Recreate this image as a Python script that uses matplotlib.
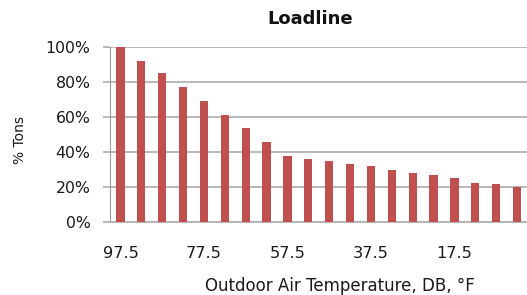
import matplotlib
matplotlib.use('Agg')
import matplotlib.pyplot as plt
from matplotlib.ticker import PercentFormatter

# data
temps = [97.5, 92.5, 87.5, 82.5, 77.5, 72.5, 67.5, 62.5, 57.5, 52.5,
         47.5, 42.5, 37.5, 32.5, 27.5, 22.5, 17.5, 12.5, 7.5, 2.5]
tons = [100, 92, 85, 77, 69, 61, 54, 46, 38, 36,
        35, 33, 32, 30, 28, 27, 25, 22.5, 22, 20]

plt.rcParams['font.family'] = ['DejaVu Sans']

fig = plt.figure(figsize=(5.27, 2.95), dpi=100)
ax = fig.add_axes([110/527, 73/295, 417.5/527, 175/295])

x = list(range(len(temps)))
ax.bar(x, tons, width=0.4, color='#C0504D', zorder=3)

ax.set_xlim(-0.5, len(temps) - 0.5)
ax.set_ylim(0, 100)
ax.set_yticks([0, 20, 40, 60, 80, 100])
ax.yaxis.set_major_formatter(PercentFormatter(decimals=0))
ax.set_xticks(x[::4])
ax.set_xticklabels([str(t) for t in temps[::4]])

ax.grid(axis='y', color='#B3B3B3', linewidth=1.3, zorder=0)
for s in ['top', 'right']:
    ax.spines[s].set_visible(False)
ax.spines['left'].set_color('#9A9A9A')
ax.spines['bottom'].set_color('#B3B3B3')
ax.spines['bottom'].set_linewidth(1.3)

ax.tick_params(axis='y', length=5, color='#B3B3B3', width=1.3, pad=9,
               labelsize=11.3, labelcolor='#1a1a1a')
ax.tick_params(axis='x', length=0, pad=17, labelsize=11.6, labelcolor='#1a1a1a')

fig.text(310/527, 1 - 19/295, 'Loadline', ha='center', va='center',
         fontsize=13, fontweight='bold', color='#111111')
fig.text(340/527, 1 - 286/295, 'Outdoor Air Temperature, DB, °F', ha='center',
         va='center', fontsize=12, color='#1a1a1a')
fig.text(20/527, 1 - 140/295, '% Tons', ha='center', va='center',
         rotation=90, fontsize=10, color='#1a1a1a')

fig.savefig('out.png', dpi=100)
